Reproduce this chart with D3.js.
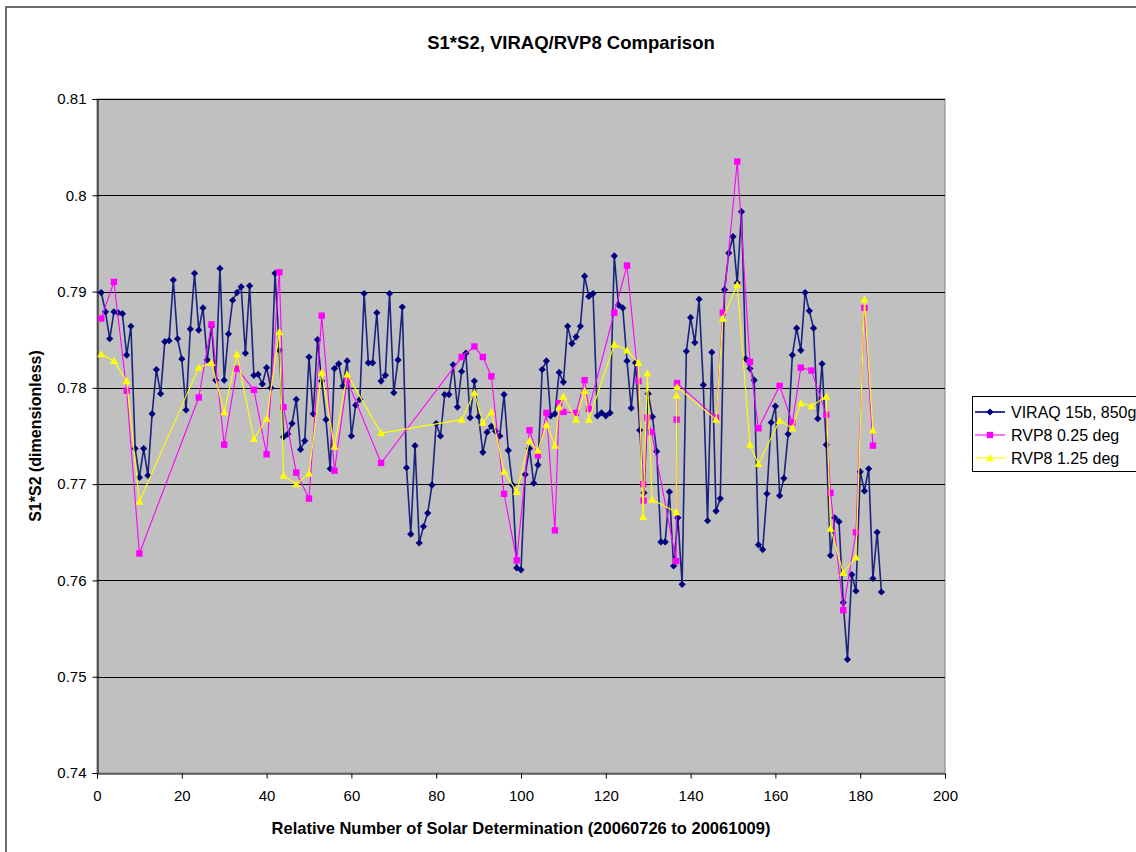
<!DOCTYPE html>
<html>
<head>
<meta charset="utf-8">
<script src="https://cdn.jsdelivr.net/npm/d3@7"></script>
<style>
  html, body { margin: 0; padding: 0; background: #ffffff; }
  svg { display: block; }
  text { font-family: "Liberation Sans", Arial, sans-serif; fill: #000; }
</style>
</head>
<body>
<script>
// VIRAQ 15b, 850g: one value per solar determination (1..185)
const viraq = [
  0.7899, 0.7879, 0.7851, 0.7879, 0.7878, 0.7877, 0.7834, 0.7864, 0.7737, 0.7707,
  0.7737, 0.7709, 0.7773, 0.7819, 0.7794, 0.7848, 0.7849, 0.7912, 0.7851, 0.7830,
  0.7777, 0.7861, 0.7919, 0.7860, 0.7883, 0.7829, 0.7864, 0.7808, 0.7924, 0.7808,
  0.7856, 0.7891, 0.7899, 0.7905, 0.7836, 0.7906, 0.7813, 0.7814, 0.7804, 0.7821,
  0.7800, 0.7919, 0.7839, 0.7749, 0.7752, 0.7763, 0.7788, 0.7736, 0.7745, 0.7832,
  0.7773, 0.7850, 0.7807, 0.7767, 0.7716, 0.7820, 0.7825, 0.7802, 0.7828, 0.7750,
  0.7782, 0.7788, 0.7898, 0.7826, 0.7826, 0.7878, 0.7807, 0.7813, 0.7898, 0.7795,
  0.7829, 0.7884, 0.7717, 0.7648, 0.7740, 0.7639, 0.7656, 0.7670, 0.7699, 0.7763,
  0.7750, 0.7793, 0.7793, 0.7824, 0.7780, 0.7817, 0.7836, 0.7769, 0.7807, 0.7770,
  0.7733, 0.7754, 0.7760, 0.7755, 0.7750, 0.7793, 0.7735, 0.7699, 0.7613, 0.7611,
  0.7710, 0.7737, 0.7701, 0.7720, 0.7819, 0.7828, 0.7771, 0.7773, 0.7816, 0.7806,
  0.7864, 0.7846, 0.7853, 0.7864, 0.7916, 0.7895, 0.7898, 0.7771, 0.7774, 0.7771,
  0.7774, 0.7937, 0.7886, 0.7883, 0.7828, 0.7779, 0.7826, 0.7756, 0.7691, 0.7794,
  0.7770, 0.7734, 0.7640, 0.7640, 0.7692, 0.7615, 0.7665, 0.7596, 0.7838, 0.7873,
  0.7847, 0.7892, 0.7803, 0.7662, 0.7837, 0.7672, 0.7685, 0.7902, 0.7940, 0.7957,
  0.7909, 0.7983, 0.7830, 0.7820, 0.7808, 0.7637, 0.7632, 0.7690, 0.7764, 0.7781,
  0.7688, 0.7706, 0.7752, 0.7834, 0.7862, 0.7839, 0.7899, 0.7880, 0.7862, 0.7768,
  0.7825, 0.7741, 0.7626, 0.7665, 0.7661, 0.7577, 0.7518, 0.7606, 0.7589, 0.7713,
  0.7693, 0.7716, 0.7602, 0.7650, 0.7588
];

// RVP8 0.25 deg
const rvp025X = [
  1, 4, 7, 10, 24, 27, 30, 33, 37, 40, 43, 44, 47, 50, 53, 56, 59, 67, 86, 89,
  91, 93, 96, 99, 102, 104, 106, 108, 109, 110, 113, 115, 116, 122, 125,
  127.7, 128.8, 128.9, 129.8, 130.8, 136.6, 136.7, 136.8, 146, 147.6, 151,
  154, 156, 161, 164, 166, 168.5, 172, 173, 176, 179, 181, 183
];
const rvp025 = [
  0.7872, 0.7910, 0.7797, 0.7628, 0.7790, 0.7866, 0.7741, 0.7820, 0.7798, 0.7731,
  0.7920, 0.7780, 0.7712, 0.7685, 0.7875, 0.7714, 0.7808, 0.7722, 0.7832, 0.7843,
  0.7832, 0.7812, 0.7690, 0.7621, 0.7756, 0.7730, 0.7774, 0.7652, 0.7784, 0.7775,
  0.7774, 0.7808, 0.7778, 0.7878, 0.7927,
  0.7807, 0.7700, 0.7683, 0.7769, 0.7754, 0.7620, 0.7767, 0.7805, 0.7769, 0.7878, 0.8035,
  0.7827, 0.7758, 0.7802, 0.7764, 0.7821, 0.7818, 0.7772, 0.7691, 0.7569, 0.7650,
  0.7883, 0.7740
];

// RVP8 1.25 deg
const rvp125X = [
  1, 4, 7, 10, 24, 27, 30, 33, 37, 40, 43, 44, 47, 50, 53, 56, 59, 67, 86, 89,
  91, 93, 96, 99, 102, 104, 106, 108, 109, 110, 113, 115, 116, 122, 125,
  127.7, 128.8, 129.8, 130.9, 136.6, 136.7, 136.8, 146, 147.6, 151,
  154, 156, 161, 164, 166, 168.5, 172, 173, 176, 179, 181, 183
];
const rvp125 = [
  0.7835, 0.7828, 0.7807, 0.7682, 0.7821, 0.7826, 0.7775, 0.7835, 0.7747, 0.7768,
  0.7858, 0.7709, 0.7700, 0.7711, 0.7816, 0.7739, 0.7814, 0.7753, 0.7767, 0.7795,
  0.7764, 0.7775, 0.7713, 0.7692, 0.7745, 0.7735, 0.7762, 0.7740, 0.7780, 0.7791,
  0.7767, 0.7797, 0.7767, 0.7845, 0.7839,
  0.7826, 0.7666, 0.7815, 0.7684, 0.7671, 0.7792, 0.7801, 0.7767, 0.7872, 0.7907,
  0.7741, 0.7721, 0.7766, 0.7758, 0.7784, 0.7781, 0.7791, 0.7654, 0.7608, 0.7624,
  0.7892, 0.7756
];

const xTicks = [0, 20, 40, 60, 80, 100, 120, 140, 160, 180, 200];
const yTicks = [0.74, 0.75, 0.76, 0.77, 0.78, 0.79, 0.80, 0.81];
const seriesNames = ["VIRAQ 15b, 850g", "RVP8 0.25 deg", "RVP8 1.25 deg"];
const seriesColors = ["#000080", "#ff00ff", "#ffff00"];

const W = 1136, H = 852;
const plot = { left: 97, right: 945, top: 99, bottom: 773 };

const svg = d3.select("body").append("svg")
  .attr("width", W).attr("height", H);

// chart area frame
svg.append("rect")
  .attr("x", 6).attr("y", 7).attr("width", W + 20).attr("height", H + 20)
  .attr("fill", "#fff").attr("stroke", "#404040").attr("stroke-width", 1.5);

const x = d3.scaleLinear().domain([0, 200]).range([plot.left, plot.right]);
const y = d3.scaleLinear().domain([0.74, 0.81]).range([plot.bottom, plot.top]);

// plot area
svg.append("rect")
  .attr("x", plot.left).attr("y", plot.top)
  .attr("width", plot.right - plot.left).attr("height", plot.bottom - plot.top)
  .attr("fill", "#c0c0c0").attr("stroke", "#808080").attr("stroke-width", 1);

// horizontal gridlines
svg.append("g").selectAll("line")
  .data(yTicks.filter(v => v > 0.74))
  .join("line")
  .attr("x1", plot.left).attr("x2", plot.right)
  .attr("y1", d => Math.round(y(d)) + 0.5).attr("y2", d => Math.round(y(d)) + 0.5)
  .attr("stroke", "#000").attr("stroke-width", 1);

// axes
const fmtY = d => d3.format(".2f")(d).replace(/0$/, "");
const yAxis = d3.axisLeft(y).tickValues(yTicks).tickSize(5).tickPadding(6).tickFormat(fmtY);
const xAxis = d3.axisBottom(x).tickValues(xTicks).tickSize(5).tickPadding(12).tickFormat(d3.format("d"));

const gy = svg.append("g").attr("transform", `translate(${plot.left + 0.5},0)`).call(yAxis);
const gx = svg.append("g").attr("transform", `translate(0,${plot.bottom + 0.5})`).call(xAxis);
[gx, gy].forEach(g => {
  g.select(".domain").attr("stroke", "#000");
  g.selectAll(".tick line").attr("stroke", "#000");
  g.selectAll(".tick text")
    .attr("font-family", "Liberation Sans, Arial, sans-serif")
    .attr("font-size", 15).attr("fill", "#000");
});

// marker shapes
const diamond = r => `M0,${-r}L${r},0L0,${r}L${-r},0Z`;
const square = r => `M${-r},${-r}H${r}V${r}H${-r}Z`;
const triangle = r => `M0,${-r}L${r},${r * 0.8}L${-r},${r * 0.8}Z`;

function drawSeries(xs, ys, color, width, shape, fill) {
  const pts = xs.map((d, i) => [x(d), y(ys[i])]);
  const g = svg.append("g");
  g.append("path")
    .attr("d", d3.line()(pts))
    .attr("fill", "none").attr("stroke", color).attr("stroke-width", width)
    .attr("stroke-linejoin", "round");
  g.selectAll("path.m").data(pts).join("path")
    .attr("class", "m")
    .attr("transform", d => `translate(${d[0]},${d[1]})`)
    .attr("d", shape)
    .attr("fill", fill);
}

const viraqX = viraq.map((_, i) => i + 1);
drawSeries(viraqX, viraq, "#1a237e", 1.6, diamond(3.6), "#000080");
drawSeries(rvp025X, rvp025, "#ff00ff", 1.1, square(3.2), "#ff00ff");
drawSeries(rvp125X, rvp125, "#ffff00", 1.1, triangle(4), "#ffff00");

// titles
svg.append("text")
  .attr("x", 571).attr("y", 49)
  .attr("text-anchor", "middle")
  .attr("font-size", 18.5).attr("font-weight", "bold")
  .text("S1*S2, VIRAQ/RVP8 Comparison");

svg.append("text")
  .attr("x", (plot.left + plot.right) / 2).attr("y", 834)
  .attr("text-anchor", "middle")
  .attr("font-size", 16.5).attr("font-weight", "bold")
  .text("Relative Number of Solar Determination (20060726 to 20061009)");

svg.append("text")
  .attr("transform", `translate(41,${(plot.top + plot.bottom) / 2}) rotate(-90)`)
  .attr("text-anchor", "middle")
  .attr("font-size", 16).attr("font-weight", "bold")
  .text("S1*S2 (dimensionless)");

// legend
const lg = svg.append("g");
lg.append("rect")
  .attr("x", 972.5).attr("y", 396.5).attr("width", 200).attr("height", 75)
  .attr("fill", "#fff").attr("stroke", "#000").attr("stroke-width", 1);
const legendShapes = [diamond(3.6), square(3.2), triangle(4)];
seriesNames.forEach((name, i) => {
  const cy = 412 + i * 23;
  lg.append("line")
    .attr("x1", 975).attr("x2", 1005).attr("y1", cy).attr("y2", cy)
    .attr("stroke", seriesColors[i]).attr("stroke-width", i === 0 ? 1.6 : 1.1);
  lg.append("path")
    .attr("transform", `translate(990,${cy})`)
    .attr("d", legendShapes[i]).attr("fill", seriesColors[i]);
  lg.append("text")
    .attr("x", 1011).attr("y", cy + 5.5)
    .attr("font-size", 16)
    .text(name);
});
</script>
</body>
</html>
